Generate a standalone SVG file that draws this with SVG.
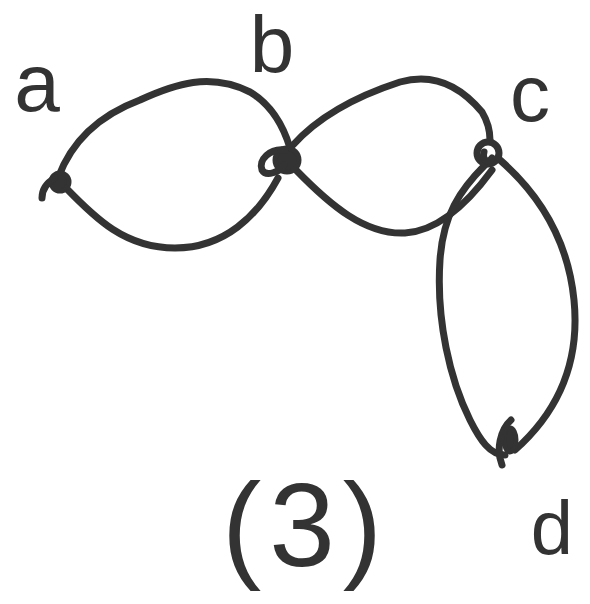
<svg xmlns="http://www.w3.org/2000/svg" width="590" height="604" viewBox="0 0 590 604">
<style>
.e{fill:none;stroke:#333;stroke-width:7;stroke-linecap:round;stroke-linejoin:round}
.n{fill:#333;stroke:#333;stroke-width:5}
.o{fill:none;stroke:#333;stroke-width:7}
.t{fill:#333;font-family:"Liberation Sans",Arial,sans-serif;text-anchor:middle}
</style>
<rect width="590" height="604" fill="#fff"/>
<g id="connectors">
<path class="e" d="M58,178 C72,140 100,115 140,100 C175,84 210,72 250,92 C270,104 283,125 290,148"/>
<path class="e" d="M66,188 C95,218 125,248 175,248 C225,248 258,215 278,178"/>
<path class="e" d="M293,145 C320,115 360,95 400,82 C435,72 462,88 482,112 C488,122 490,132 490,140"/>
<path class="e" d="M296,170 C330,205 365,235 405,233 C440,231 470,200 492,170"/>
<path class="e" d="M485,165 C460,190 443,215 440,260 C436,320 450,380 470,420 C480,440 490,455 505,455"/>
<path class="e" d="M500,160 C540,195 568,240 574,300 C580,360 560,410 515,450"/>
</g>
<g id="node-a">
<circle class="n" cx="60" cy="182" r="9"/>
<path class="e" d="M55,178 C48,182 42,188 42,198"/>
<text class="t" x="37" y="111" font-size="82">a</text>
</g>
<g id="node-b">
<circle class="n" cx="287" cy="160" r="12"/>
<path class="e" d="M285,150 C270,148 258,160 262,170 C266,177 280,172 284,165"/>
<text class="t" x="272" y="72" font-size="80">b</text>
</g>
<g id="node-c">
<circle class="o" cx="488" cy="153" r="11"/>
<path class="e" d="M484,152 C482,160 488,164 492,158"/>
<text class="t" x="530" y="121" font-size="80">c</text>
</g>
<g id="node-d">
<ellipse class="n" cx="510" cy="440" rx="6" ry="12"/>
<path class="e" d="M511,420 C500,430 496,450 502,465"/>
<text class="t" x="552" y="554" font-size="76">d</text>
</g>
<g id="label">
<text class="t" x="306" y="566" font-size="118" letter-spacing="8">(3)</text>
</g>
</svg>
